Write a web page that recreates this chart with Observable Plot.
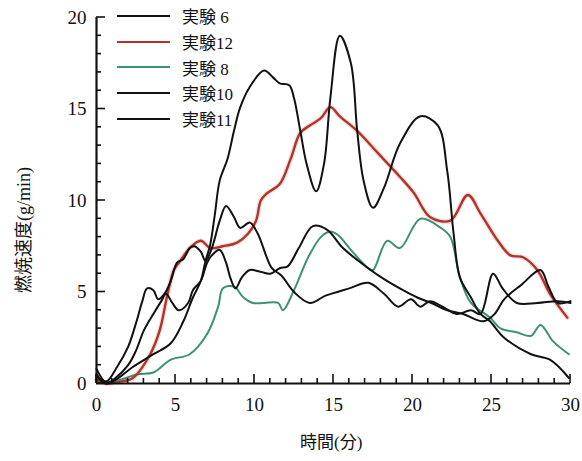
<!DOCTYPE html>
<html><head><meta charset="utf-8">
<script src="https://cdn.jsdelivr.net/npm/d3@7"></script>
<script src="https://cdn.jsdelivr.net/npm/@observablehq/plot@0.6"></script>
<style>
body{margin:0;background:#fff;}
#wrap{position:relative;width:582px;height:461px;overflow:hidden;}
.lbl{position:absolute;font-family:"Liberation Serif","Noto Sans CJK JP",serif;color:#111;white-space:nowrap;}
#legend{position:absolute;left:117px;top:3px;font-family:"Liberation Serif","Noto Sans CJK JP",serif;font-size:17px;color:#111;}
#legend .row{display:flex;align-items:center;height:25.7px;}
#legend svg{margin-right:12px;}
</style></head><body><div id="wrap"></div>
<script>
const seriesNames = ["実験 6", "実験12", "実験 8", "実験10", "実験11"];
const seriesColors = ["#111111", "#b0342a", "#3d9274", "#111111", "#111111"];
const xMajorTicks = [0, 5, 10, 15, 20, 25, 30];
const yMajorTicks = [0, 5, 10, 15, 20];
const xTitle = "時間(分)";
const yTitle = "燃焼速度(g/min)";

// [time (min), burning rate (g/min)]
const exp6 = [[0,0.4],[0.6,0],[1.2,0.2],[2.3,0.9],[3.6,1.6],[4.7,2.2],[5.5,3.4],[6.1,4.7],[6.6,5.6],[6.9,6.7],[7.2,7.6],[7.5,9.3],[7.8,11.1],[8.3,12.3],[8.7,13.8],[9.1,15.1],[9.7,16.2],[10.6,17.1],[11.2,16.7],[11.6,16.4],[12.2,16.3],[12.5,15.6],[12.9,13.8],[13.3,12.0],[13.9,10.5],[14.4,12.0],[14.8,15.6],[15.4,19.0],[16.1,17.5],[16.5,13.8],[16.9,11.1],[17.5,9.6],[18.2,10.7],[19.2,13.1],[20.5,14.6],[21.6,14.1],[22.2,11.6],[22.6,8.2],[23.0,5.8],[23.7,4.7],[24.3,3.8],[24.9,3.4],[25.8,2.5],[27.5,1.6],[28.7,1.3],[29.9,0.3]];
const exp12 = [[0,0.2],[0.7,0],[1.5,0.1],[2.3,0.3],[3.4,1.6],[4.0,2.9],[4.5,4.9],[4.9,6.2],[5.3,6.7],[5.9,7.4],[6.6,7.8],[7.2,7.4],[8.0,7.5],[8.9,7.7],[9.6,8.2],[10.1,8.9],[10.4,10.0],[10.8,10.4],[11.6,10.9],[12.3,12.3],[12.9,13.7],[13.5,14.1],[14.2,14.5],[14.8,15.1],[15.4,14.6],[16.5,13.8],[17.8,12.6],[19.2,11.3],[20.1,10.4],[21.1,9.1],[22.4,8.9],[23.5,10.3],[24.3,9.3],[25.4,7.8],[26.2,7.0],[27.0,6.9],[27.9,6.2],[28.7,4.9],[29.8,3.6]];
const exp8 = [[0,0.2],[1.0,0.1],[2.6,0.5],[3.6,0.6],[4.7,1.3],[5.9,1.6],[7.0,2.7],[7.7,4.2],[8.0,5.2],[8.7,5.3],[9.3,4.7],[9.9,4.4],[10.6,4.4],[11.5,4.4],[11.8,4.0],[12.5,5.1],[13.4,6.9],[14.2,8.0],[14.8,8.3],[15.3,8.1],[16.1,7.3],[17.2,6.3],[17.5,6.2],[18.4,7.8],[19.2,7.4],[20.5,9.0],[21.8,8.5],[22.4,8.0],[23.0,5.8],[23.7,4.4],[24.9,3.6],[25.6,3.0],[26.6,2.8],[27.5,2.6],[28.1,3.2],[28.9,2.3],[29.9,1.6]];
const exp10 = [[0,0.5],[0.6,0],[1.2,0.3],[2.0,1.0],[2.5,1.8],[3.0,2.9],[3.6,3.8],[4.1,4.5],[4.4,4.9],[4.8,4.4],[5.2,4.0],[5.8,4.4],[6.1,5.1],[6.6,5.6],[7.0,6.6],[7.3,7.0],[7.8,7.3],[8.2,6.6],[8.5,5.7],[8.8,5.2],[9.2,5.8],[9.7,6.2],[10.4,6.1],[11.0,6.0],[11.6,6.3],[12.1,6.4],[12.8,7.4],[13.7,8.6],[14.6,8.4],[15.6,7.4],[17.2,6.3],[18.2,5.7],[19.4,5.1],[20.3,4.7],[21.2,4.4],[22.2,4.0],[23.2,3.8],[24.5,3.4],[25.2,3.8],[25.8,4.6],[26.9,5.4],[28.1,6.2],[28.6,5.3],[29.2,4.4],[30,4.5]];
const exp11 = [[0,0.8],[0.6,0.1],[1.3,0.9],[2.0,2.0],[2.5,3.3],[2.9,4.5],[3.2,5.2],[3.6,5.1],[3.9,4.6],[4.3,4.9],[4.7,5.6],[5.1,6.6],[5.5,6.8],[5.9,7.4],[6.2,7.5],[6.6,7.2],[6.9,6.7],[7.3,7.4],[7.8,8.9],[8.2,9.7],[8.7,9.1],[9.1,8.5],[9.7,8.8],[10.2,8.2],[11.1,6.3],[11.7,5.9],[12.5,5.0],[13.5,4.4],[14.5,4.8],[16.0,5.2],[17.2,5.5],[18.2,4.9],[19.1,4.2],[19.9,4.6],[20.5,4.2],[21.1,4.5],[21.9,4.2],[22.8,3.8],[23.7,4.0],[24.3,3.8],[25.1,6.0],[25.7,5.2],[26.6,4.4],[27.9,4.4],[29.2,4.5],[30,4.4]];

const seriesData = [exp6, exp12, exp8, exp10, exp11];
const rows = seriesData.flatMap((arr, i) => arr.map(([t, v]) => ({series: seriesNames[i], t, v})));
const xAllTicks = d3.range(0, 31, 1);
const yAllTicks = d3.range(0, 21, 1);
const curve = "catmull-rom";

const chart = Plot.plot({
  width: 582, height: 461,
  marginLeft: 96, marginRight: 12, marginTop: 17, marginBottom: 78,
  x: {domain: [0, 30], label: null},
  y: {domain: [0, 20], label: null},
  color: {domain: seriesNames, range: seriesColors},
  style: {fontFamily: "'Liberation Serif', serif", fontSize: "19px", color: "#111", background: "white"},
  marks: [
    Plot.line(rows.filter(d => d.series === "実験 8"), {x: "t", y: "v", stroke: "series", strokeWidth: 2, curve}),
    Plot.line(rows.filter(d => d.series === "実験12"), {x: "t", y: "v", stroke: "series", strokeWidth: 5, strokeOpacity: 0.15, curve}),
    Plot.line(rows.filter(d => d.series === "実験12"), {x: "t", y: "v", stroke: "series", strokeWidth: 2.4, curve}),
    Plot.line(rows.filter(d => d.series !== "実験 8" && d.series !== "実験12"), {x: "t", y: "v", z: "series", stroke: "series", strokeWidth: 2, curve}),
    Plot.axisX({ticks: xMajorTicks, tickSize: 0, tickPadding: 14}),
    Plot.axisY({ticks: yMajorTicks, tickSize: 0, tickPadding: 10}),
    Plot.ruleX([0], {strokeWidth: 2.2}),
    Plot.ruleY([0], {strokeWidth: 2.2})
  ]
});
const wrap = document.getElementById("wrap");
wrap.appendChild(chart);

// Inward ticks, placed through Plot's own scales
const sx = chart.scale("x"), sy = chart.scale("y");
const xs = v => sx.apply(v), ys = v => sy.apply(v);
const tickLen = d => (d % 5 === 0 ? 9 : 5);
const g = d3.select(chart).append("g").attr("stroke", "#111").attr("stroke-width", 1.6);
g.selectAll("line.xt").data(xAllTicks).join("line").attr("class", "xt")
  .attr("x1", d => xs(d)).attr("x2", d => xs(d))
  .attr("y1", ys(0)).attr("y2", d => ys(0) - tickLen(d));
g.selectAll("line.yt").data(yAllTicks).join("line").attr("class", "yt")
  .attr("x1", xs(0)).attr("x2", d => xs(0) + tickLen(d))
  .attr("y1", d => ys(d)).attr("y2", d => ys(d));

// Legend
const legend = document.createElement("div");
legend.id = "legend";
seriesNames.forEach((name, i) => {
  const row = document.createElement("div");
  row.className = "row";
  row.innerHTML = `<svg width="53" height="6"><line x1="0" x2="53" y1="3" y2="3" stroke="${seriesColors[i]}" stroke-width="2.2"/></svg><span>${name}</span>`;
  legend.appendChild(row);
});
wrap.appendChild(legend);

// Axis titles
const xt = document.createElement("div");
xt.className = "lbl"; xt.textContent = xTitle;
xt.style.cssText = "left:300px;top:428px;font-size:17px;";
wrap.appendChild(xt);
const yt = document.createElement("div");
yt.className = "lbl"; yt.textContent = yTitle;
yt.style.cssText = "left:22px;top:230px;font-size:18px;transform:translate(-50%,-50%) rotate(-90deg);";
wrap.appendChild(yt);
</script>
</body></html>
